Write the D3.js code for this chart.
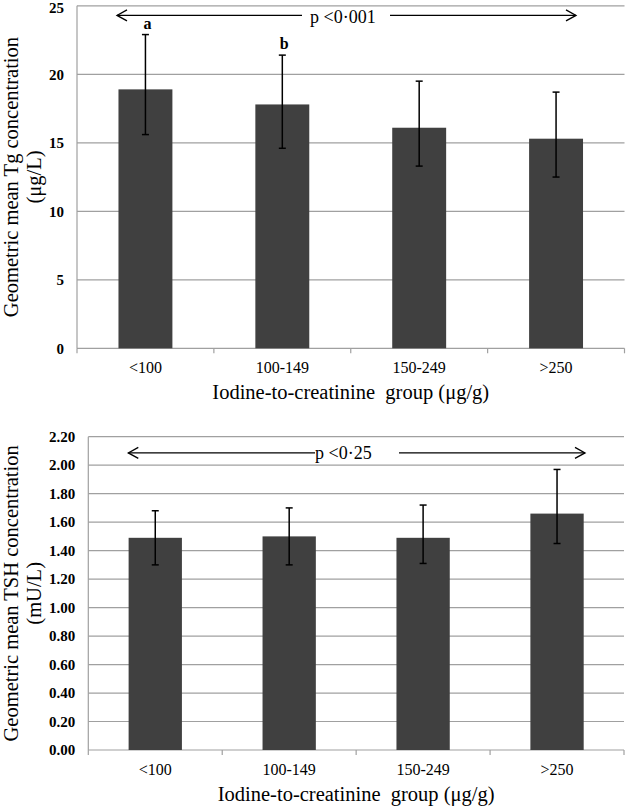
<!DOCTYPE html>
<html>
<head>
<meta charset="utf-8">
<script src="https://cdn.jsdelivr.net/npm/d3@7"></script>
<style>
  html, body { margin: 0; padding: 0; background: #fff; }
  svg { display: block; }
  text { font-family: "Liberation Serif", "Times New Roman", serif; fill: #000; }
</style>
</head>
<body>
<svg id="chart" width="627" height="807"></svg>
<script>
// ---- Data ----
const categories = ["<100", "100-149", "150-249", ">250"];

const tgMean  = [18.9, 17.8, 16.1, 15.3];
const tgLower = [15.6, 14.6, 13.3, 12.5];
const tgUpper = [22.9, 21.4, 19.5, 18.7];
const tgLetters = ["a", "b", "", ""];
const tgTicks = [0, 5, 10, 15, 20, 25];
const tgTickLabels = ["0", "5", "10", "15", "20", "25"];

const tshMean  = [1.49, 1.50, 1.49, 1.66];
const tshLower = [1.30, 1.30, 1.31, 1.45];
const tshUpper = [1.68, 1.70, 1.72, 1.97];
const tshLetters = ["", "", "", ""];
const tshTicks = [0, 0.2, 0.4, 0.6, 0.8, 1.0, 1.2, 1.4, 1.6, 1.8, 2.0, 2.2];
const tshTickLabels = ["0.00", "0.20", "0.40", "0.60", "0.80", "1.00", "1.20", "1.40", "1.60", "1.80", "2.00", "2.20"];

const xTitle = "Iodine-to-creatinine\u00A0 group (\u03BCg/g)";

const svg = d3.select("#chart");
const BAR = "#404040";
const GRID = "#a0a0a0";

function drawChart(cfg) {
  const g = svg.append("g");
  const x = d3.scaleBand()
    .domain(categories)
    .range([cfg.left, cfg.right])
    .paddingInner(cfg.padIn)
    .paddingOuter(cfg.padIn / 2);
  const y = d3.scaleLinear().domain([0, cfg.max]).range([cfg.bottom, cfg.top]);
  const step = x.step();
  const bw = x.bandwidth();

  // gridlines
  g.selectAll("line.grid").data(cfg.ticks.slice(1)).join("line")
    .attr("x1", cfg.left).attr("x2", cfg.right)
    .attr("y1", d => y(d)).attr("y2", d => y(d))
    .attr("stroke", GRID).attr("stroke-width", 1.2);

  // y axis line
  g.append("line")
    .attr("x1", cfg.left).attr("x2", cfg.left)
    .attr("y1", y(cfg.max)).attr("y2", y(0))
    .attr("stroke", GRID).attr("stroke-width", 1.2);

  // x axis line + tick marks at band boundaries
  g.append("line")
    .attr("x1", cfg.left).attr("x2", cfg.right)
    .attr("y1", y(0)).attr("y2", y(0))
    .attr("stroke", GRID).attr("stroke-width", 1.2);
  g.selectAll("line.xt").data(d3.range(categories.length + 1)).join("line")
    .attr("x1", i => cfg.left + i * step).attr("x2", i => cfg.left + i * step)
    .attr("y1", y(0)).attr("y2", y(0) + 5)
    .attr("stroke", GRID).attr("stroke-width", 1.2);

  // y tick labels
  g.selectAll("text.yt").data(cfg.ticks).join("text")
    .attr("x", cfg.left - 13).attr("y", d => Math.max(y(d), 7.5))
    .attr("dy", "0.35em")
    .attr("text-anchor", "end")
    .attr("font-size", 15).attr("font-weight", "bold")
    .text((d, i) => cfg.tickLabels[i]);

  // x tick labels
  g.selectAll("text.xl").data(categories).join("text")
    .attr("x", d => x(d) + bw / 2).attr("y", y(0) + 25)
    .attr("text-anchor", "middle")
    .attr("font-size", 16)
    .text(d => d);

  // x title
  g.append("text")
    .attr("x", (cfg.left + cfg.right) / 2).attr("y", y(0) + 51)
    .attr("text-anchor", "middle")
    .attr("font-size", 20.5)
    .text(xTitle);

  // y title (two lines)
  const cy = (y(0) + y(cfg.max)) / 2;
  g.append("text")
    .attr("transform", `translate(18,${cy}) rotate(-90)`)
    .attr("text-anchor", "middle").attr("font-size", 20.5)
    .text(cfg.yTitle1);
  g.append("text")
    .attr("transform", `translate(41,${cy}) rotate(-90)`)
    .attr("text-anchor", "middle").attr("font-size", 20.5)
    .text(cfg.yTitle2);

  // bars
  g.selectAll("rect.bar").data(categories).join("rect")
    .attr("x", d => x(d)).attr("width", bw)
    .attr("y", (d, i) => y(cfg.mean[i]))
    .attr("height", (d, i) => y(0) - y(cfg.mean[i]))
    .attr("fill", BAR);

  // error bars
  const eb = g.selectAll("g.eb").data(categories).join("g");
  eb.append("line")
    .attr("x1", d => x(d) + bw / 2).attr("x2", d => x(d) + bw / 2)
    .attr("y1", (d, i) => y(cfg.upper[i])).attr("y2", (d, i) => y(cfg.lower[i]))
    .attr("stroke", "#000").attr("stroke-width", 1.5);
  eb.append("line")
    .attr("x1", d => x(d) + bw / 2 - 3.5).attr("x2", d => x(d) + bw / 2 + 3.5)
    .attr("y1", (d, i) => y(cfg.upper[i])).attr("y2", (d, i) => y(cfg.upper[i]))
    .attr("stroke", "#000").attr("stroke-width", 1.5);
  eb.append("line")
    .attr("x1", d => x(d) + bw / 2 - 3.5).attr("x2", d => x(d) + bw / 2 + 3.5)
    .attr("y1", (d, i) => y(cfg.lower[i])).attr("y2", (d, i) => y(cfg.lower[i]))
    .attr("stroke", "#000").attr("stroke-width", 1.5);

  // letters above error bars
  g.selectAll("text.let").data(categories).join("text")
    .attr("x", d => x(d) + bw / 2 + 2)
    .attr("y", (d, i) => y(cfg.upper[i]) - 6)
    .attr("text-anchor", "middle")
    .attr("font-size", 16).attr("font-weight", "bold")
    .text((d, i) => cfg.letters[i]);

  // p-value arrow annotation
  const ay = y(cfg.arrowVal);
  const a = cfg.arrow;
  const line = (x1, x2) => g.append("line")
    .attr("x1", x1).attr("x2", x2).attr("y1", ay).attr("y2", ay)
    .attr("stroke", "#000").attr("stroke-width", 1.3);
  line(a.l, a.lEnd);
  line(a.rStart, a.r);
  g.append("path")
    .attr("d", `M${a.l + 10},${ay - 5.5}L${a.l},${ay}L${a.l + 10},${ay + 5.5}`)
    .attr("fill", "none").attr("stroke", "#000").attr("stroke-width", 1.3);
  g.append("path")
    .attr("d", `M${a.r - 10},${ay - 5.5}L${a.r},${ay}L${a.r - 10},${ay + 5.5}`)
    .attr("fill", "none").attr("stroke", "#000").attr("stroke-width", 1.3);
  g.append("text")
    .attr("x", a.text).attr("y", ay + cfg.textDy)
    .attr("font-size", 18)
    .text(cfg.pText);
}

drawChart({
  left: 77, right: 624.5, top: 5.8, bottom: 348.3, max: 25, padIn: 0.606,
  ticks: tgTicks, tickLabels: tgTickLabels,
  mean: tgMean, lower: tgLower, upper: tgUpper, letters: tgLetters,
  yTitle1: "Geometric mean Tg concentration", yTitle2: "(\u03BCg/L)",
  arrowVal: 24.3, arrow: { l: 117, lEnd: 302, rStart: 390, r: 576, text: 310 },
  textDy: 7.5, pText: "p <0\u00B7001"
});

drawChart({
  left: 88.3, right: 624, top: 436.7, bottom: 750, max: 2.2, padIn: 0.602,
  ticks: tshTicks, tickLabels: tshTickLabels,
  mean: tshMean, lower: tshLower, upper: tshUpper, letters: tshLetters,
  yTitle1: "Geometric mean TSH concentration", yTitle2: "(mU/L)",
  arrowVal: 2.086, arrow: { l: 128.3, lEnd: 315, rStart: 399, r: 585, text: 315 },
  textDy: 6, pText: "p <0\u00B725"
});
</script>
</body>
</html>
